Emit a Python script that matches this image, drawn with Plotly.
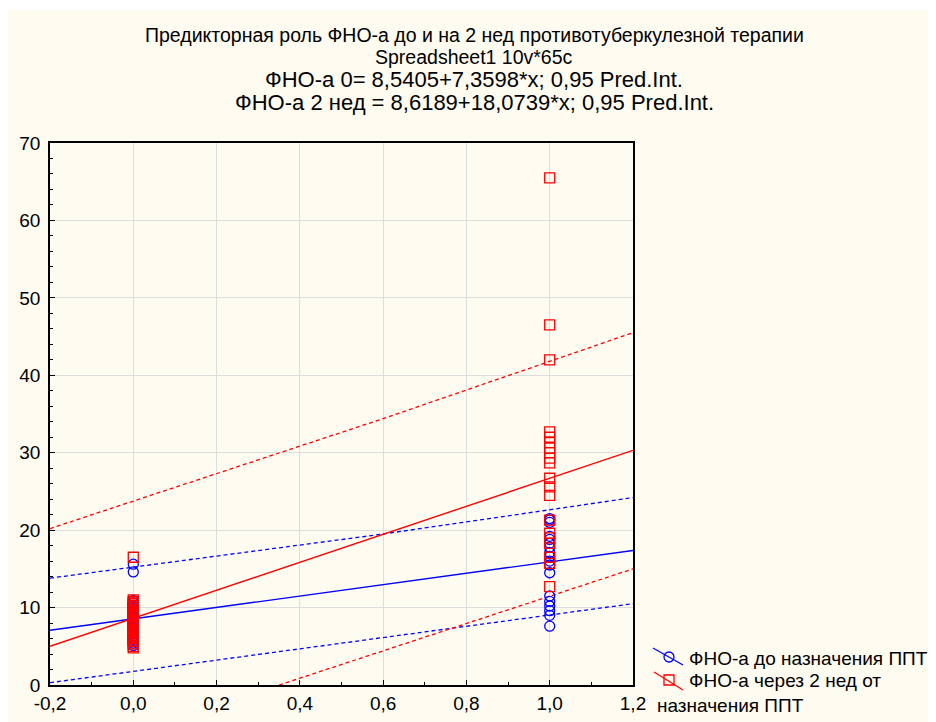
import plotly.graph_objects as go

# ---- data ----
blue_x0 = [15.6, 14.6, 10.9, 10.6, 10.2, 9.9, 9.7, 9.5, 9.2, 8.9, 8.8, 8.6, 8.3, 8.1,
           8.0, 7.7, 7.4, 7.3, 7.1, 6.9, 6.8, 6.6, 6.3, 6.0, 5.9, 5.7, 5.4, 5.1]
blue_x1 = [21.5, 21.3, 21.0, 19.2, 18.8, 18.3, 17.8, 17.1, 16.6, 16.0, 15.5, 14.5,
           11.5, 10.8, 10.2, 9.6, 9.0, 7.6]
red_x0 = [16.5, 11.0, 10.8, 10.6, 10.5, 10.3, 10.1, 10.0, 9.8, 9.6, 9.5, 9.3, 9.1,
          9.0, 8.8, 8.7, 8.5, 8.4, 8.2, 8.1, 8.0, 7.8, 7.7, 7.5, 7.4, 7.2, 7.1, 7.0,
          6.8, 6.6, 6.4, 6.2, 6.0, 5.8, 5.6, 5.3, 5.0, 4.8]
red_x1 = [65.5, 46.5, 42.0, 32.7, 32.0, 31.3, 30.6, 30.0, 29.3, 28.7, 26.7, 25.6,
          24.5, 21.3, 19.6, 19.0, 18.3, 16.5, 15.7, 12.7]

# regression coefficients (from title)
blue_coef = [8.5405, 7.3598]
red_coef = [8.6189, 18.0739]

# prediction-interval bands read at these x positions
band_x = [-0.2, 0.6, 1.2]
blue_upper = [13.8, 19.5, 24.2]
blue_lower = [0.3, 6.1, 10.5]
red_x_lower = [0.35, 0.8, 1.2]
red_lower = [0.0, 7.9, 15.0]
red_upper = [20.2, 34.4, 45.5]

x_ticks = [-0.2, 0.0, 0.2, 0.4, 0.6, 0.8, 1.0, 1.2]
x_tick_text = ["-0,2", "0,0", "0,2", "0,4", "0,6", "0,8", "1,0", "1,2"]
y_ticks = [0, 10, 20, 30, 40, 50, 60, 70]

title_lines = [
    "Предикторная роль ФНО-а до и на 2 нед противотуберкулезной терапии",
    "Spreadsheet1 10v*65c",
    "ФНО-а 0= 8,5405+7,3598*x; 0,95 Pred.Int.",
    "ФНО-а 2 нед = 8,6189+18,0739*x; 0,95 Pred.Int.",
]
legend_lines = ["ФНО-а до назначения ППТ", "ФНО-а через 2 нед от", "назначения ППТ"]

BLUE = "#0000FF"
RED = "#FF0000"
FONT = "Liberation Sans, Arial, sans-serif"

fig = go.Figure()

xl = [-0.2, 1.2]
dash = "4px,3px"
# bands
fig.add_trace(go.Scatter(x=band_x, y=blue_upper, mode="lines", line=dict(color=BLUE, width=1.3, dash=dash), showlegend=False))
fig.add_trace(go.Scatter(x=band_x, y=blue_lower, mode="lines", line=dict(color=BLUE, width=1.3, dash=dash), showlegend=False))
fig.add_trace(go.Scatter(x=band_x, y=red_upper, mode="lines", line=dict(color=RED, width=1.3, dash=dash), showlegend=False))
fig.add_trace(go.Scatter(x=red_x_lower, y=red_lower, mode="lines", line=dict(color=RED, width=1.3, dash=dash), showlegend=False))
# regression lines
fig.add_trace(go.Scatter(x=xl, y=[blue_coef[0] + blue_coef[1] * v for v in xl], mode="lines", line=dict(color=BLUE, width=1.4), showlegend=False))
fig.add_trace(go.Scatter(x=xl, y=[red_coef[0] + red_coef[1] * v for v in xl], mode="lines", line=dict(color=RED, width=1.4), showlegend=False))

# points
fig.add_trace(go.Scatter(x=[0.0] * len(blue_x0) + [1.0] * len(blue_x1), y=blue_x0 + blue_x1, mode="markers",
                         marker=dict(symbol="circle-open", size=10, color=BLUE, line=dict(width=1.3)),
                         name=legend_lines[0], showlegend=False))
fig.add_trace(go.Scatter(x=[0.0] * len(red_x0) + [1.0] * len(red_x1), y=red_x0 + red_x1, mode="markers",
                         marker=dict(symbol="square-open", size=10, color=RED, line=dict(width=1.3)),
                         name=legend_lines[1] + " " + legend_lines[2], showlegend=False))

# figure geometry (page has an 8px body margin)
W, H = 928, 714
L, R, T, B = 42, 625, 135, 677
pw, ph = R - L, B - T

def px(xp):
    return (xp - L) / pw

def py(yp):
    return (B - yp) / ph

# cream panel
fig.add_shape(type="rect", xref="paper", yref="paper", x0=px(-2), x1=px(W + 10), y0=py(H + 10), y1=py(2),
              fillcolor="#FEFBF0", line=dict(width=0), layer="below")

for txt, yc, fs in zip(title_lines, [27, 49, 72, 95], [19.5, 19.5, 22, 22]):
    fig.add_annotation(text=txt, xref="paper", yref="paper", x=px(466), y=py(yc), showarrow=False,
                       xanchor="center", yanchor="middle", font=dict(size=fs, color="black", family=FONT))

# legend (hand-drawn key: diagonal line through the marker, as in the original)
for (x0, y0, x1, y1, col) in [(645, 640, 675, 657, BLUE), (646, 664, 675, 682, RED)]:
    fig.add_shape(type="line", xref="paper", yref="paper", x0=px(x0), y0=py(y0), x1=px(x1), y1=py(y1),
                  line=dict(color=col, width=1.3))
fig.add_shape(type="circle", xref="paper", yref="paper", x0=px(656), x1=px(666), y0=py(654), y1=py(644),
              line=dict(color=BLUE, width=1.3), fillcolor="rgba(0,0,0,0)")
fig.add_shape(type="rect", xref="paper", yref="paper", x0=px(656), x1=px(666), y0=py(677), y1=py(667),
              line=dict(color=RED, width=1.3), fillcolor="rgba(0,0,0,0)")
for txt, xt, yt in zip(legend_lines, [679, 679, 647], [650, 672, 697]):
    fig.add_annotation(text=txt, xref="paper", yref="paper", x=px(xt), y=py(yt), showarrow=False,
                       xanchor="left", yanchor="middle", font=dict(size=19, color="black", family=FONT))

fig.update_layout(
    width=W, height=H,
    margin=dict(l=L, r=W - R, t=T, b=H - B, autoexpand=False),
    paper_bgcolor="white", plot_bgcolor="white",
    font=dict(family=FONT, color="black"),
    showlegend=False,
)
fig.update_xaxes(range=[-0.2, 1.2], tickvals=x_ticks, ticktext=x_tick_text, showgrid=True, gridcolor="#DDDDDD",
                 gridwidth=1.3, showline=True, linecolor="black", linewidth=1.5, mirror=True, ticks="inside", ticklen=5,
                 tickcolor="black", zeroline=False, tickfont=dict(size=19),
                 minor=dict(dtick=0.1, ticks="inside", ticklen=3, tickcolor="black", showgrid=False))
fig.update_yaxes(range=[0, 70], tickvals=y_ticks, showgrid=True, gridcolor="#DDDDDD",
                 gridwidth=1.3, showline=True, linecolor="black", linewidth=1.5, mirror=True, ticks="inside", ticklen=5,
                 tickcolor="black", zeroline=False, tickfont=dict(size=19), ticklabelstandoff=4,
                 minor=dict(dtick=2, ticks="inside", ticklen=3, tickcolor="black", showgrid=False))

fig.write_html("out.html")
